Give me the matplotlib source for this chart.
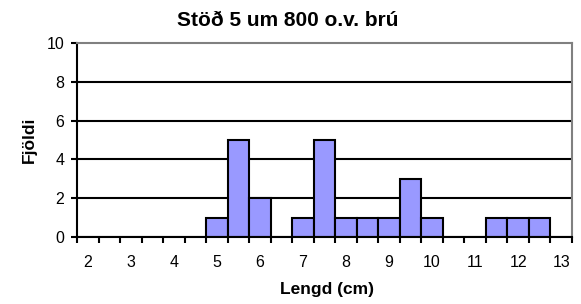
import matplotlib.pyplot as plt
import numpy as np

plt.rcParams["font.family"] = ["Liberation Sans", "DejaVu Sans"]

# length classes (cm), every half centimetre
LENGTHS = [2, 2.5, 3, 3.5, 4, 4.5, 5, 5.5, 6, 6.5, 7, 7.5,
           8, 8.5, 9, 9.5, 10, 10.5, 11, 11.5, 12, 12.5, 13]
COUNTS = [0, 0, 0, 0, 0, 0, 1, 5, 2, 0, 1, 5,
          1, 1, 1, 3, 1, 0, 0, 1, 1, 1, 0]
Y_TICKS = [0, 2, 4, 6, 8, 10]

TITLE = "Stöð 5 um 800 o.v. brú"
XLABEL = "Lengd (cm)"
YLABEL = "Fjöldi"


def main():
    fig = plt.figure(figsize=(5.81, 3.04), dpi=100)
    ax = fig.add_axes([77 / 581, 1 - 237 / 304, 495 / 581, 194 / 304])

    pos = np.arange(len(LENGTHS))
    ax.bar(pos, COUNTS, width=1.0, color="#9999FF", edgecolor="black",
           linewidth=1.5, zorder=3)

    ax.set_xlim(-0.5, len(LENGTHS) - 0.5)
    ax.set_ylim(0, 10)

    # ticks at category edges, labels on every whole centimetre
    ax.set_xticks(np.arange(len(LENGTHS) + 1) - 0.5)
    ax.set_xticklabels([])
    ax.set_xticks(pos[::2], minor=True)
    ax.set_xticklabels([f"{v:g}" for v in LENGTHS[::2]], minor=True)
    ax.tick_params(axis="x", which="major", direction="out", length=4,
                   width=1.5, color="black")
    ax.tick_params(axis="x", which="minor", length=0, pad=13, labelsize=11.5)

    ax.set_yticks(Y_TICKS)
    ax.tick_params(axis="y", direction="out", length=4, width=1.5,
                   labelsize=11.5, pad=5)

    for y in Y_TICKS[1:-1]:
        ax.axhline(y, color="black", linewidth=1.5, zorder=1)

    ax.spines["left"].set_linewidth(1.5)
    ax.spines["bottom"].set_linewidth(1.5)
    ax.spines["top"].set_color("#808080")
    ax.spines["right"].set_color("#808080")
    ax.spines["top"].set_linewidth(1.5)
    ax.spines["right"].set_linewidth(1.5)
    for s in ax.spines.values():
        s.set_zorder(4)

    fig.text(288 / 581, 1 - 26 / 304, TITLE, ha="center",
             va="baseline", fontsize=15, fontweight="bold")
    fig.text(327 / 581, 1 - 294 / 304, XLABEL, ha="center", va="baseline",
             fontsize=12.5, fontweight="bold")
    fig.text(29 / 581, 1 - 140 / 304, YLABEL, ha="center", va="center",
             rotation=90, fontsize=12.5, fontweight="bold")

    fig.savefig("out.png", dpi=100)


if __name__ == "__main__":
    main()
